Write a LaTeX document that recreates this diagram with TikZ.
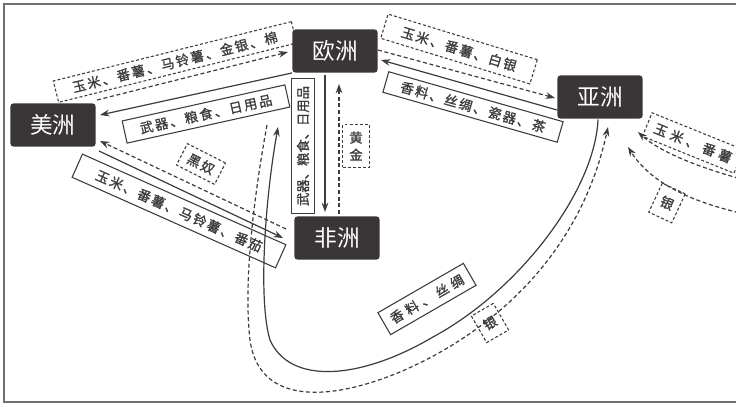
\documentclass[tikz,border=0pt]{standalone}
\usepackage{fontspec}
\newfontfamily\cjk{Noto Sans CJK SC}
\newfontfamily\cjkb[FakeBold=1.2]{Noto Sans CJK SC}
\newfontfamily\cjksp[LetterSpace=14,FakeBold=1.2]{Noto Sans CJK SC}
\newfontfamily\cjkwide[LetterSpace=30,FakeBold=1.2]{Noto Sans CJK SC}
\usetikzlibrary{arrows.meta}
\definecolor{nodefill}{HTML}{3A3536}
\definecolor{linec}{HTML}{3C3C3C}
\definecolor{framec}{HTML}{707070}
\begin{document}
\begin{tikzpicture}[x=0.75pt,y=-0.75pt,
  cont/.style={fill=nodefill,rounded corners=2.5pt,text=white,font=\cjk\fontsize{17}{17}\selectfont,minimum width=64pt,minimum height=32.5pt,inner sep=0pt},
  sbox/.style={draw=linec,line width=0.8pt,fill=white,text=linec,font=\cjksp\fontsize{10}{12}\selectfont,inner sep=1pt},
  dbox/.style={sbox,dash pattern=on 2.2pt off 1.6pt},
  sline/.style={draw=linec,line width=0.9pt,-{Stealth[length=7pt,width=5pt]}},
  dline/.style={sline,dash pattern=on 3pt off 2pt},
]
\useasboundingbox (0,0) rectangle (736,407);
\clip (0,0) rectangle (736,407);
\fill[white] (0,0) rectangle (736,407);
\draw[framec,line width=1.6pt] (745,4) -- (4,4) -- (4,402) -- (745,402);

% label boxes
\node[dbox,rotate=14,minimum width=184pt,minimum height=16.5pt] (l1) at (175,62) {玉米、番薯、马铃薯、金银、棉};
\node[sbox,rotate=12.5,minimum width=125pt,minimum height=17pt] (l2) at (206,114) {武器、粮食、日用品};
\node[sbox,rotate=90,minimum width=101pt,minimum height=17pt,font=\cjkb\fontsize{10}{12}\selectfont] (l3) at (303,146) {武器、粮食、日用品};
\node[dbox,minimum width=20pt,minimum height=32pt,align=center,font=\cjkb\fontsize{10}{13}\selectfont] (l4) at (356,146) {黄\\金};
\node[dbox,rotate=-27,minimum width=32pt,minimum height=18pt] (l5) at (201,164) {黑奴};
\node[sbox,rotate=-24,minimum width=167pt,minimum height=19pt] (l6) at (179,211) {玉米、番薯、马铃薯、番茄};
\node[dbox,rotate=-17,minimum width=117pt,minimum height=19pt] (l7) at (459,49) {玉米、番薯、白银};
\node[sbox,rotate=-16,minimum width=136pt,minimum height=16pt] (l8) at (473,107) {香料、丝绸、瓷器、茶};
\node[sbox,rotate=30,minimum width=74pt,minimum height=19pt,font=\cjkwide\fontsize{10}{12}\selectfont] (l9) at (427,299) {香料、丝绸};
\node[dbox,rotate=30,minimum width=19pt,minimum height=23pt] (l10) at (490,323) {银};
\node[dbox,rotate=-22,minimum width=74pt,minimum height=19pt,font=\cjkwide\fontsize{10}{12}\selectfont] (l11) at (693,143) {玉米、番薯};
\node[dbox,rotate=-25,minimum width=19pt,minimum height=24pt] (l12) at (667,203) {银};

% continents
\node[cont] (am) at (53,125) {美洲};
\node[cont] (eu) at (335,51) {欧洲};
\node[cont] (as) at (600,97) {亚洲};
\node[cont] (af) at (337,238) {非洲};

% free ends
\coordinate (amA) at (97,100);
\coordinate (euA) at (288,52);
\coordinate (amB) at (100,115);
\coordinate (afA) at (286,229);
\coordinate (amC) at (100,141);
\coordinate (amD) at (99,151);
\coordinate (afD) at (283,238);
\coordinate (euE) at (325,75);
\coordinate (afE) at (325,212);
\coordinate (afF) at (339,214);
\coordinate (euF) at (339,84);
\coordinate (euG) at (378,50);
\coordinate (asG) at (555,98);
\coordinate (asH) at (557,110);
\coordinate (euH) at (381,60);
\coordinate (asI) at (598,119.5);
\coordinate (tipI) at (278,127);
\coordinate (startJ) at (267,125);
\coordinate (asJ) at (608,127);
\coordinate (r1) at (745,180);
\coordinate (asK) at (638,132);
\coordinate (r2) at (745,214);
\coordinate (asL) at (628,147);

% connectors
\draw[dline] (amA) -- (euA);
\draw[sline] (eu.south west) -- (amB);
\draw[dline] (afA) -- (amC);
\draw[sline] (amD) -- (afD);
\draw[sline] (euE) -- (afE);
\draw[dline] (afF) -- (euF);
\draw[dline] (euG) -- (asG);
\draw[sline] (asH) -- (euH);
\draw[sline] (asI) .. controls (595,190) and (520,290) .. (433,337)
  .. controls (360,380) and (290,385) .. (270,340)
  .. controls (258,300) and (265,200) .. (tipI);
\draw[dline] (startJ) .. controls (255,190) and (243,280) .. (250,340)
  .. controls (258,400) and (320,405) .. (400,372)
  .. controls (480,338) and (578,265) .. (asJ);
\draw[dline] (r1) .. controls (700,168) and (660,152) .. (asK);
\draw[dline] (r2) .. controls (690,202) and (650,182) .. (asL);
\end{tikzpicture}
\end{document}
